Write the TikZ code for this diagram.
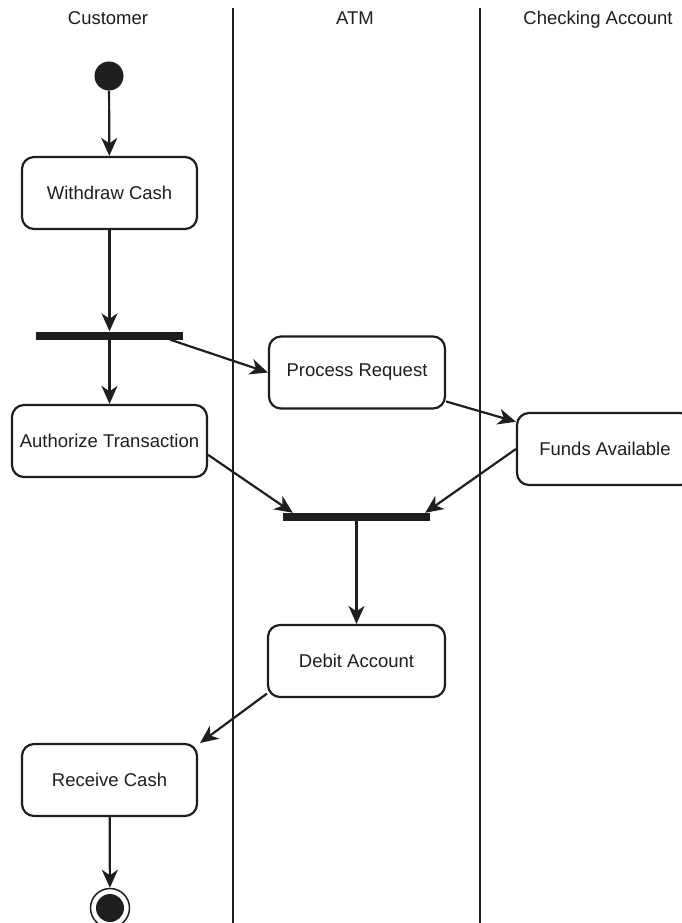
\documentclass[tikz,border=0pt]{standalone}
\usepackage{fontspec}
\setmainfont{Liberation Sans}
\usetikzlibrary{arrows.meta,calc}
\definecolor{ink}{HTML}{1E1E1E}
\begin{document}
\begin{tikzpicture}[x=1pt,y=-1pt,
  every node/.style={font=\fontsize{18.5}{22}\selectfont, text=ink},
  act/.style={draw=ink, line width=2.2pt, rounded corners=12pt, minimum height=72pt, inner sep=0pt},
  bar/.style={fill=ink, minimum height=8pt, inner sep=0pt, minimum width=147pt},
  flow/.style={draw=ink, line width=2.2pt, -{Stealth[length=18pt,width=16pt,inset=5.5pt]}},
  lane/.style={draw=ink, line width=2.2pt},
  title/.style={inner sep=0pt, anchor=base}]
\useasboundingbox (0,0) rectangle (681,923);
\fill[white] (0,0) rectangle (681,923);
% lanes
\coordinate (l1t) at (233,8); \coordinate (l1b) at (233,923);
\coordinate (l2t) at (480,8); \coordinate (l2b) at (480,923);
\draw[lane] (l1t) -- (l1b);
\draw[lane] (l2t) -- (l2b);
\node[title] (tc) at (108,25) {Customer};
\node[title] (ta) at (355,25) {ATM};
\node[title] (tk) at (598,25) {Checking Account};
% nodes
\node[circle, fill=ink, minimum size=29pt, inner sep=0pt] (start) at (109,76) {};
\node[act, minimum width=175pt] (wd) at (109.5,193) {Withdraw Cash};
\node[bar] (b1) at (109.5,335.5) {};
\node[act, minimum width=176pt] (proc) at (357,372.5) {Process Request};
\node[act, minimum width=195pt] (auth) at (109.5,441) {Authorize Transaction};
\node[act, minimum width=176pt] (funds) at (605,449) {Funds Available};
\node[bar] (b2) at (356.5,517) {};
\node[act, minimum width=177pt] (debit) at (356.5,661) {Debit Account};
\node[act, minimum width=175pt] (recv) at (109.5,780) {Receive Cash};
\node[circle, draw=ink, line width=1.5pt, minimum size=39pt, inner sep=0pt] (endo) at (110,908) {};
\node[circle, fill=ink, minimum size=28pt, inner sep=0pt] (endi) at (110,908) {};
% connectors
\draw[flow] (start) -- (wd);
\draw[flow] (wd) -- (b1);
\draw[flow] (b1) -- (auth);
\draw[flow] ($(b1.south east)+(-13,0)$) -- (proc.west);
\draw[flow] (proc.-18) -- (funds.163);
\draw[flow] (funds.west) -- ($(b2.north east)+(-5,0)$);
\draw[flow] (auth.-8) -- ($(b2.north west)+(10,0)$);
\draw[flow] (b2) -- (debit);
\draw[flow] (debit.200) -- ($(recv.north east)+(2,0)$);
\draw[flow] (recv) -- (endo);
\end{tikzpicture}
\end{document}
